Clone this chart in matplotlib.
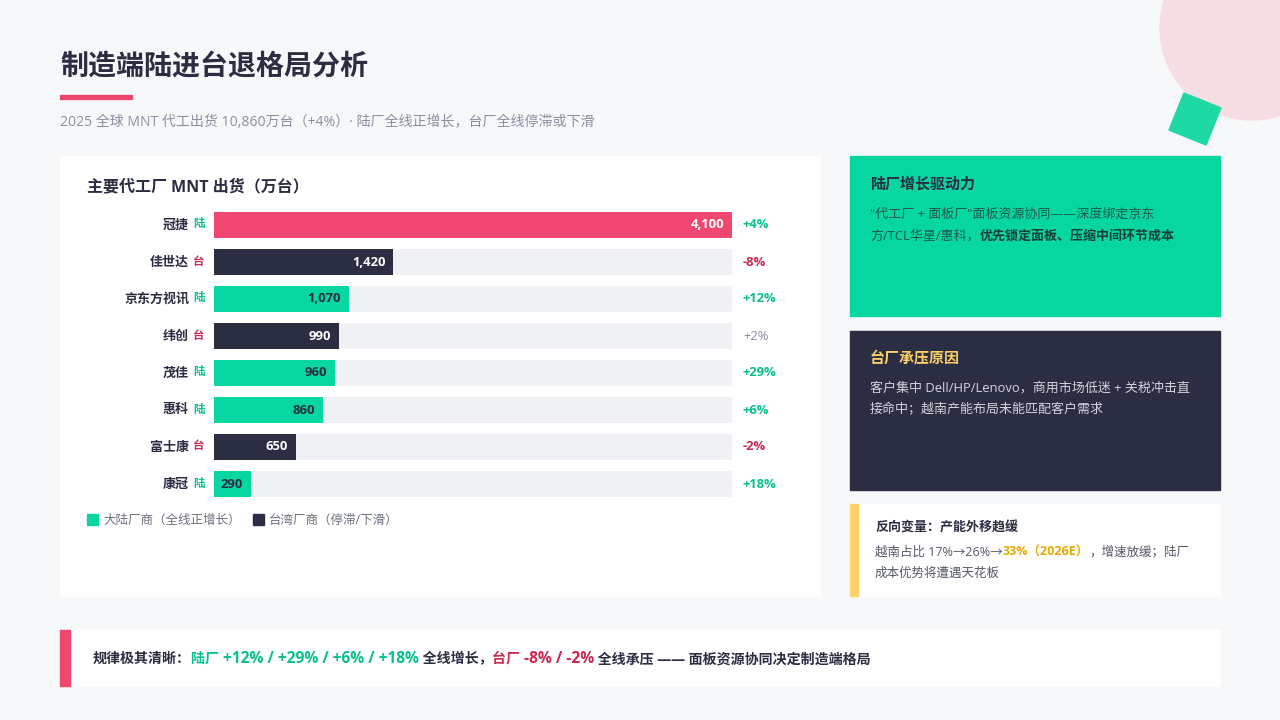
import matplotlib
matplotlib.use("Agg")
import matplotlib.pyplot as plt
from matplotlib.patches import Rectangle, Circle, Polygon
import numpy as np

plt.rcParams['font.family'] = ['Open Sans', 'Noto Sans CJK SC', 'DejaVu Sans']

# data
names = ["冠捷", "佳世达", "京东方视讯", "纬创", "茂佳", "惠科", "富士康", "康冠"]
regions = ["陆", "台", "陆", "台", "陆", "陆", "台", "陆"]
shipments = [4100, 1420, 1070, 990, 960, 860, 650, 290]
growth = ["+4%", "-8%", "+12%", "+2%", "+29%", "+6%", "-2%", "+18%"]
growth_kind = ["up", "down", "up", "flat", "up", "up", "down", "up"]
max_value = 4100

DARK = "#2b2d42"
GREEN = "#06d6a0"
PINK = "#ef476f"
RED = "#c9274f"
TRACK = "#f0f1f5"
GRAY = "#8b8fa0"
YELLOW = "#ffd166"

def px(p):
    return p * 0.72  # pixel size -> points at dpi 100

fig = plt.figure(figsize=(12.8, 7.2), dpi=100)
fig.patch.set_facecolor("#f7f8fa")

# full-figure canvas in pixel coordinates
bg = fig.add_axes([0, 0, 1, 1])
bg.set_xlim(0, 1280)
bg.set_ylim(720, 0)
bg.axis("off")
bg.set_facecolor("none")

# decorations
bg.add_patch(Circle((1252, 28), 92, color="#f7dde4", zorder=0))
c, s = np.cos(np.radians(22)), np.sin(np.radians(22))
sq = np.array([[-20, -20], [20, -20], [20, 20], [-20, 20]])
sq = sq @ np.array([[c, s], [-s, c]]) + np.array([1195, 119])
bg.add_patch(Polygon(sq, closed=True, color="#1fd9a5", zorder=1))

# title block
bg.text(60, 68, "制造端陆进台退格局分析", fontsize=px(28), fontweight="bold",
        color=DARK, va="center", ha="left")
bg.add_patch(Rectangle((60, 95), 72, 4, color=PINK))
bg.text(60, 122, "2025 全球 MNT 代工出货 10,860万台（+4%）· 陆厂全线正增长，台厂全线停滞或下滑",
        fontsize=px(14), color=GRAY, va="center", ha="left")

# cards
bg.add_patch(Rectangle((60, 156), 760, 440, color="white", zorder=0))
bg.add_patch(Rectangle((850, 156), 370, 160, color=GREEN, zorder=0))
bg.add_patch(Rectangle((850, 331), 370, 159, color=DARK, zorder=0))
bg.add_patch(Rectangle((850, 504), 370, 92, color="white", zorder=0))
bg.add_patch(Rectangle((850, 504), 8, 92, color=YELLOW, zorder=1))
bg.add_patch(Rectangle((60, 630), 1160, 56, color="white", zorder=0))
bg.add_patch(Rectangle((60, 630), 10, 56, color=PINK, zorder=1))

fig.canvas.draw()
renderer = fig.canvas.get_renderer()

def rich(x, y, parts, size):
    # draw text pieces one after another; a part may carry its own size
    for part in parts:
        txt, color, weight = part[:3]
        sz = part[3] if len(part) > 3 else size
        t = bg.text(x, y, txt, fontsize=px(sz), color=color, fontweight=weight,
                    va="center", ha="left")
        x += t.get_window_extent(renderer).width

# chart card
bg.text(87, 187, "主要代工厂 MNT 出货（万台）", fontsize=px(16), fontweight="bold",
        color=DARK, va="center", ha="left")

ax = fig.add_axes([214 / 1280, 1 - 502.5 / 720, 518 / 1280, 296 / 720])
ax.set_facecolor("none")
ax.set_xlim(0, max_value)
ax.set_ylim(len(names) - 0.5, -0.5)
ax.axis("off")

ypos = np.arange(len(names))
bar_colors = []
for i, r in enumerate(regions):
    if i == 0:
        bar_colors.append(PINK)
    elif r == "陆":
        bar_colors.append(GREEN)
    else:
        bar_colors.append(DARK)

ax.barh(ypos, [max_value] * len(names), height=0.7, color=TRACK, zorder=1)
ax.barh(ypos, shipments, height=0.7, color=bar_colors, zorder=2)

for i in ypos:
    ax.annotate(names[i], xy=(0, i), xycoords="data", xytext=(-25, 0),
                textcoords="offset pixels", ha="right", va="center",
                fontsize=px(13), fontweight="bold", color=DARK)
    ax.annotate(regions[i], xy=(0, i), xycoords="data", xytext=(-15, 0),
                textcoords="offset pixels", ha="center", va="center",
                fontsize=px(11.5), fontweight="bold",
                color="#06c08e" if regions[i] == "陆" else RED)
    val_color = DARK if bar_colors[i] == GREEN else "white"
    ax.annotate(f"{shipments[i]:,}", xy=(shipments[i], i), xycoords="data",
                xytext=(-8, 0), textcoords="offset pixels", ha="right", va="center",
                fontsize=px(13), fontweight="bold", color=val_color, zorder=3)
    gcol = {"up": "#06c08e", "down": RED, "flat": GRAY}[growth_kind[i]]
    ax.annotate(growth[i], xy=(1, i), xycoords=("axes fraction", "data"),
                xytext=(11, 0), textcoords="offset pixels", ha="left", va="center",
                fontsize=px(13), fontweight="normal" if growth_kind[i] == "flat" else "bold",
                color=gcol)

# legend
bg.add_patch(Rectangle((87, 514), 11, 11, color=GREEN))
bg.text(103, 520, "大陆厂商（全线正增长）", fontsize=px(12.5), color="#6b6f80",
        va="center", ha="left")
bg.add_patch(Rectangle((253, 514), 11, 11, color=DARK))
bg.text(269, 520, "台湾厂商（停滞/下滑）", fontsize=px(12.5), color="#6b6f80",
        va="center", ha="left")

# green card
bg.text(870, 184, "陆厂增长驱动力", fontsize=px(15), fontweight="bold", color=DARK,
        va="center", ha="left")
bg.text(870, 214, "\"代工厂 + 面板厂\"面板资源协同——深度绑定京东", fontsize=px(13),
        color="#1e5a4c", va="center", ha="left")
rich(870, 236, [("方/TCL华星/惠科，", "#1e5a4c", "normal"),
                ("优先锁定面板、压缩中间环节成本", "#173f37", "bold")], 13)

# dark card
bg.text(870, 358, "台厂承压原因", fontsize=px(15), fontweight="bold", color=YELLOW,
        va="center", ha="left")
bg.text(870, 388, "客户集中 Dell/HP/Lenovo，商用市场低迷 + 关税冲击直", fontsize=px(13),
        color="#d3d5de", va="center", ha="left")
bg.text(870, 410, "接命中；越南产能布局未能匹配客户需求", fontsize=px(13),
        color="#d3d5de", va="center", ha="left")

# third card
bg.text(875, 528, "反向变量：产能外移趋缓", fontsize=px(13), fontweight="bold",
        color=DARK, va="center", ha="left")
rich(875, 552, [("越南占比 17%→26%→", "#555866", "normal"),
                ("33%（2026E）", "#e8a800", "bold"),
                ("，增速放缓；陆厂", "#555866", "normal")], 12.5)
bg.text(875, 573, "成本优势将遭遇天花板", fontsize=px(12.5), color="#555866",
        va="center", ha="left")

# bottom banner
rich(93, 659, [("规律极其清晰：", DARK, "bold"),
               ("陆厂 ", "#06c08e", "bold"),
               ("+12% / +29% / +6% / +18%", "#06c08e", "bold", 15.5),
               (" 全线增长，", DARK, "bold"),
               ("台厂 ", RED, "bold"),
               ("-8% / -2%", RED, "bold", 15.5),
               (" 全线承压 —— 面板资源协同决定制造端格局", DARK, "bold")], 14)

fig.savefig("out.png", dpi=100, facecolor=fig.get_facecolor())
